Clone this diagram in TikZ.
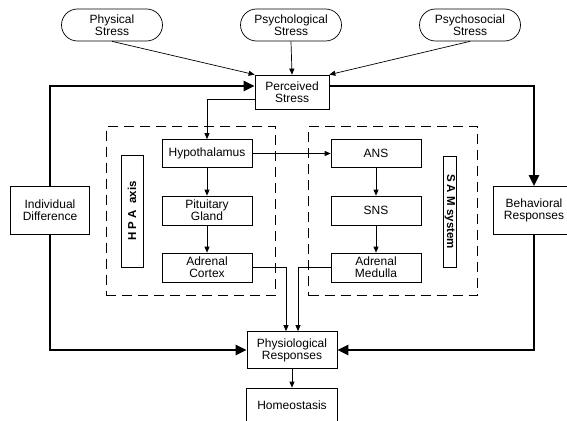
\documentclass[tikz,border=0pt]{standalone}
\usepackage{fontspec}
\setmainfont{Liberation Sans}
\usetikzlibrary{arrows.meta}
\usetikzlibrary{positioning}

\begin{document}
\begin{tikzpicture}[
    x=1pt, y=-1pt,
    font=\fontsize{12}{11.8}\selectfont
]
\tikzset{
    stressnode/.style = {draw, rounded corners=16pt, align=center, minimum width=101pt, minimum height=32pt, inner sep=1pt, line width=0.7pt},
    boxnode/.style = {draw, align=center, minimum width=90pt, minimum height=29pt, inner sep=1pt, line width=0.7pt},
    axisnode/.style = {draw, font=\fontsize{11.5}{11.5}\selectfont\bfseries, inner sep=1pt, line width=0.7pt},
    groupbox/.style = {draw, dash pattern=on 10pt off 6pt, line width=0.9pt, minimum width=169pt, minimum height=169.5pt},
    edgen/.style = {-{Triangle[length=6pt,width=5pt]}, line width=0.7pt},
    edgek/.style = {-{Triangle[length=11pt,width=10pt]}, line width=2.6pt}
}
\useasboundingbox (0,0) rectangle (567,420);
\clip (0,0) rectangle (567,420);
% kinds of stress
\node[stressnode] at (112,25) (phys) {Physical\\Stress};
\node[stressnode] at (291,25) (psych) {Psychological\\Stress};
\node[stressnode] at (470,25) (psocial) {Psychosocial\\Stress};
\node[boxnode, minimum width=74pt, minimum height=34pt] at (292,92) (perc) {Perceived\\Stress};
% the two axes
\node[groupbox] at (190.5,210.75) (hpagroup) {};
\node[groupbox, minimum width=168.5pt] at (392.75,210.75) (samgroup) {};
\node[boxnode, minimum height=28pt] at (207,153.5) (hypo) {Hypothalamus};
\node[boxnode] at (207,210.5) (pit) {Pituitary\\Gland};
\node[boxnode] at (207,267.5) (cortex) {Adrenal\\Cortex};
\node[boxnode, minimum height=28pt] at (376,153.5) (ans) {ANS};
\node[boxnode] at (376,210.5) (sns) {SNS};
\node[boxnode] at (376,267.5) (medulla) {Adrenal\\Medulla};
\node[axisnode, rotate=90, minimum width=112pt, minimum height=22pt] at (132,211) (hpa) {H P A\ \ axis};
\node[axisnode, rotate=-90, minimum width=111pt, minimum height=13.5pt] at (450,211.5) (sam) {S A M system};
% outer boxes
\node[boxnode, minimum width=79pt, minimum height=48pt] at (50,210.5) (indiv) {Individual\\Difference};
\node[boxnode, minimum width=81pt, minimum height=48pt] at (534,210.5) (behav) {Behavioral\\Responses};
\node[boxnode, minimum height=37pt] at (292,350) (physio) {Physiological\\Responses};
\node[boxnode, minimum width=91pt, minimum height=34pt] at (292,405) (homeo) {Homeostasis};
% connectors
\draw[edgen] (phys.south) -- (perc.north west);
\draw[edgen] (psych.south) -- (perc.north);
\draw[edgen] (psocial.south) -- (perc.north east);
\draw[edgek] (indiv.north) |- ([yshift=6pt]perc.west);
\draw[edgek] ([yshift=6pt]perc.east) -| (behav.north);
\draw[edgek] (indiv.south) |- (physio.west);
\draw[edgek] (behav.south) |- (physio.east);
\draw[edgen] ([yshift=-7pt]perc.west) -| (hypo.north);
\draw[edgen] (hypo) -- (pit);
\draw[edgen] (pit) -- (cortex);
\draw[edgen] (hypo) -- (ans);
\draw[edgen] (ans) -- (sns);
\draw[edgen] (sns) -- (medulla);
\draw[edgen] (cortex.east) -| ([xshift=-6pt]physio.north);
\draw[edgen] (medulla.west) -| ([xshift=6pt]physio.north);
\draw[edgen] (physio) -- (homeo);
\end{tikzpicture}
\end{document}
